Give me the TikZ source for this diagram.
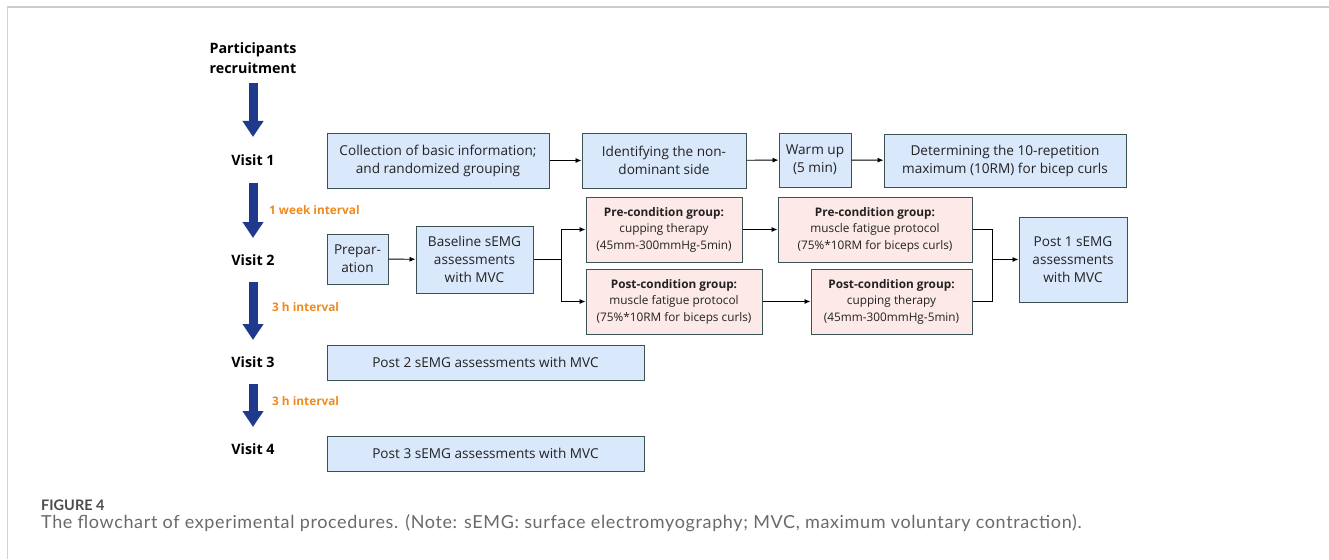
\documentclass[tikz,border=0pt]{standalone}
\usepackage{fontspec}
\setmainfont{Open Sans}
\newfontfamily\capfont{Lato}
\newfontfamily\capfontsp[LetterSpace=3.5]{Lato}
\usetikzlibrary{arrows.meta}
\definecolor{boxblue}{HTML}{DAE8FC}
\definecolor{boxpink}{HTML}{FDE9E7}
\definecolor{boxline}{HTML}{3A5252}
\definecolor{navy}{HTML}{1F3A8C}
\definecolor{orng}{HTML}{EE8A1E}
\definecolor{capgray}{HTML}{6A6A6A}
\definecolor{txt}{HTML}{222222}
\tikzset{
  bx/.style={draw=boxline, line width=1pt, align=center, inner sep=0pt, text=txt, font=\fontsize{13.6}{18}\selectfont},
  bluebox/.style={bx, fill=boxblue},
  pinkbox/.style={bx, fill=boxpink, font=\fontsize{11.8}{16.5}\selectfont},
  conn/.style={line width=0.9pt, -{Latex[length=6pt,width=5pt]}},
  plain/.style={line width=0.9pt},
  bigarrow/.style={navy, line width=9pt, -{Triangle[length=16pt,width=20pt]}},
  visit/.style={font=\bfseries\fontsize{14.3}{20}\selectfont, inner sep=0pt, text=black},
  interval/.style={font=\bfseries\fontsize{11.8}{15}\selectfont, text=orng, anchor=west, inner sep=0pt},
}
\newcommand{\boxat}[7]{\node[#1, name=#6, minimum width=#4pt-#2pt, minimum height=#5pt-#3pt] at ({(#2+#4)/2},{(#3+#5)/2}) {#7};}
\begin{document}
\begin{tikzpicture}[x=1pt,y=-1pt]
\useasboundingbox (0,0) rectangle (1329,559);
% frame
\draw[gray!40, line width=1.5pt] (7,7) -- (1329,7);
\draw[gray!35, line width=0.8pt] (7,7) -- (7,559);

% left column
\node[visit, align=center] (rec) at (253,58) {Participants\\recruitment};
\node[visit] (v1) at (253,160) {Visit 1};
\node[visit] (v2) at (253,260) {Visit 2};
\node[visit] (v3) at (253,362) {Visit 3};
\node[visit] (v4) at (253,449) {Visit 4};

\coordinate (a1s) at (253,83);  \coordinate (a1e) at (253,137);
\coordinate (a2s) at (253,183); \coordinate (a2e) at (253,238);
\coordinate (a3s) at (253,282); \coordinate (a3e) at (253,340);
\coordinate (a4s) at (253,384); \coordinate (a4e) at (253,427);
\draw[bigarrow] (a1s) -- (a1e);
\draw[bigarrow] (a2s) -- (a2e);
\draw[bigarrow] (a3s) -- (a3e);
\draw[bigarrow] (a4s) -- (a4e);

\node[interval] (i1) at (269,210) {1 week interval};
\node[interval] (i2) at (272,307) {3 h interval};
\node[interval] (i3) at (272,401) {3 h interval};

% visit 1 row
\boxat{bluebox}{327}{133}{549}{188}{b1}{Collection of basic information;\\ and randomized grouping}
\boxat{bluebox}{582}{133}{746}{188}{b2}{Identifying the non-\\dominant side}
\boxat{bluebox}{779}{133}{851}{187}{b3}{Warm up\\(5 min)}
\boxat{bluebox}{884}{134}{1126}{187}{b4}{Determining the 10-repetition\\maximum (10RM) for bicep curls}
\draw[conn] (b1) -- (b2);
\draw[conn] (b2) -- (b3);
\draw[conn] (b3) -- (b4);

% visit 2 row
\boxat{bluebox}{327}{234}{388}{284}{prep}{Prepar-\\ation}
\boxat{bluebox}{416}{226}{533}{293}{base}{Baseline sEMG\\assessments\\with MVC}
\boxat{pinkbox}{586}{197}{742}{262}{p1}{\textbf{Pre-condition group:}\\cupping therapy\\(45mm-300mmHg-5min)}
\boxat{pinkbox}{778}{197}{972}{262}{p2}{\textbf{Pre-condition group:}\\muscle fatigue protocol\\(75\%*10RM for biceps curls)}
\boxat{pinkbox}{586}{269}{762}{334}{p3}{\textbf{Post-condition group:}\\muscle fatigue protocol\\(75\%*10RM for biceps curls)}
\boxat{pinkbox}{811}{269}{972}{334}{p4}{\textbf{Post-condition group:}\\cupping therapy\\(45mm-300mmHg-5min)}
\boxat{bluebox}{1019}{217}{1127}{302}{post1}{Post 1 sEMG\\assessments\\with MVC}

\draw[conn] (prep) -- (base);
\coordinate (split) at (561,259.5);
\coordinate (merge) at (992,259.5);
\draw[plain] (base.east |- split) -- (split);
\draw[conn] (split) |- (p1.west);
\draw[conn] (split) |- (p3.west);
\draw[conn] (p1) -- (p2);
\draw[conn] (p3.east) -- (p4.west |- p3.east);
\draw[plain] (p2.east) -| (merge);
\draw[plain] (p4.east) -| (merge);
\draw[conn] (merge) -- (post1.west |- merge);

% visits 3 and 4
\boxat{bluebox}{327}{345}{644}{380}{post2}{Post 2 sEMG assessments with MVC}
\boxat{bluebox}{327}{436}{644}{471}{post3}{Post 3 sEMG assessments with MVC}

% caption
\node[anchor=west, inner sep=0pt, text=black!70, font=\capfont\bfseries\fontsize{14.5}{16}\selectfont] (fig) at (41,505) {FIGURE 4};
\node[anchor=west, inner sep=0pt, text=capgray, font=\capfontsp\fontsize{18}{22}\selectfont] (cap) at (41,523) {The flowchart of experimental procedures. (Note: sEMG: surface electromyography; MVC, maximum voluntary contraction).};
\end{tikzpicture}
\end{document}
